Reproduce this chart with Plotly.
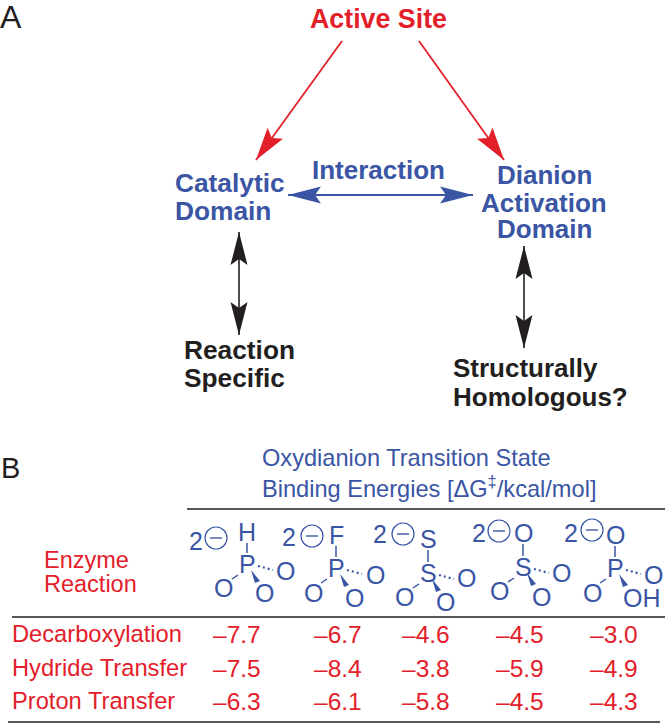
import plotly.graph_objects as go

# ---- content ----
reactions = ["Decarboxylation", "Hydride Transfer", "Proton Transfer"]
energies = [
    ["–7.7", "–6.7", "–4.6", "–4.5", "–3.0"],
    ["–7.5", "–8.4", "–3.8", "–5.9", "–4.9"],
    ["–6.3", "–6.1", "–5.8", "–4.5", "–4.3"],
]
top_atoms = ["H", "F", "S", "O", "O"]
center_atoms = ["P", "P", "S", "S", "P"]
bottom_atoms = ["O", "O", "O", "O", "OH"]

# ---- palette / layout constants ----
RED = "#e3202a"
BLUE = "#3a55a4"
BLACK = "#231f20"
FONT = "Liberation Sans"
W, H = 665, 723

col_x = [237, 338, 426, 520, 614]
row_y = [634, 668, 701]
center_xy = [(247, 564), (336, 568), (428, 573), (523, 567), (615, 568)]
top_y = [532, 535, 539, 533, 535]
left_xy = [(223, 588), (313, 593), (404, 597), (499, 591), (592, 593)]
right_xy = [(285, 571), (375, 575), (466, 578), (561, 573), (653, 575)]
bottom_xy = [(264, 593), (354, 598), (445, 602), (541, 597), (642, 598)]
two_xy = [(196, 541), (289, 537), (380, 534), (479, 533), (571, 533)]
circle_xy = [(216, 538), (312, 536), (403, 534), (499, 531), (592, 530)]

annotations = []
shapes = []


def text(x, y, s, color, size, bold=False, anchor="left"):
    annotations.append(dict(
        x=x, y=y, xref="x", yref="y", text=f"<b>{s}</b>" if bold else s,
        showarrow=False, xanchor=anchor, yanchor="middle", align=anchor,
        borderpad=0, borderwidth=0,
        font=dict(family=FONT, size=size, color=color),
    ))


def line(x0, y0, x1, y1, color, width=1.6, dash="solid"):
    shapes.append(dict(type="line", xref="x", yref="y", x0=x0, y0=y0, x1=x1, y1=y1,
                       line=dict(color=color, width=width, dash=dash)))


def poly(points, color):
    path = "M " + " L ".join(f"{a:.1f},{b:.1f}" for a, b in points) + " Z"
    shapes.append(dict(type="path", xref="x", yref="y", path=path,
                       fillcolor=color, line=dict(width=0)))


def head(tx, ty, fx, fy, length, half, notch, color):
    d = ((tx - fx) ** 2 + (ty - fy) ** 2) ** 0.5
    ux, uy = (tx - fx) / d, (ty - fy) / d
    px, py = -uy, ux
    bx, by = tx - ux * length, ty - uy * length
    nx, ny = tx - ux * notch, ty - uy * notch
    poly([(tx, ty), (bx + px * half, by + py * half), (nx, ny),
          (bx - px * half, by - py * half)], color)


def arrow(x0, y0, x1, y1, color, length, half, notch, width, both=False):
    line(x0, y0, x1, y1, color, width)
    head(x1, y1, x0, y0, length, half, notch, color)
    if both:
        head(x0, y0, x1, y1, length, half, notch, color)


# ---- panel A ----
text(0, 17, "A", BLACK, 32)
text(378, 19, "Active Site", RED, 26.8, True, "center")
arrow(342, 41, 256, 160, RED, 33, 9.5, 27, 1.8)
arrow(419, 41, 504, 160, RED, 33, 9.5, 27, 1.8)
text(175, 183, "Catalytic", BLUE, 26.3, True)
text(175, 211, "Domain", BLUE, 26.3, True)
text(378, 170, "Interaction", BLUE, 26, True, "center")
for y, s in zip([175, 203, 229], ["Dianion", "Activation", "Domain"]):
    text(544, y, s, BLUE, 26, True, "center")
arrow(288, 195, 473, 195, BLUE, 33, 8.5, 27, 1.8, both=True)
arrow(239, 232, 239, 335, BLACK, 33, 8.5, 27, 1.6, both=True)
arrow(524, 246, 524, 348, BLACK, 33, 8.5, 27, 1.6, both=True)
text(184, 350, "Reaction", BLACK, 26.3, True)
text(184, 378, "Specific", BLACK, 26.3, True)
text(453, 368, "Structurally", BLACK, 26, True)
text(453, 397, "Homologous?", BLACK, 26, True)

# ---- panel B ----
text(1, 468, "B", BLACK, 29)
text(262, 458, "Oxydianion Transition State", BLUE, 23.6)
text(262, 487, "Binding Energies [ΔG<sup>‡</sup>/kcal/mol]", BLUE, 23.6)
line(187, 509, 665, 509, BLACK, 1.6)
line(12, 617, 665, 617, BLACK, 1.6)
line(8, 722, 660, 722, BLACK, 1.6)
text(44, 560, "Enzyme", RED, 23.5)
text(44, 584, "Reaction", RED, 23.5)

for i, (cx, cy) in enumerate(center_xy):
    text(cx, top_y[i], top_atoms[i], BLUE, 25, anchor="center")
    text(cx, cy, center_atoms[i], BLUE, 25, anchor="center")
    text(*left_xy[i], "O", BLUE, 25, anchor="center")
    text(*right_xy[i], "O", BLUE, 25, anchor="center")
    text(*bottom_xy[i], bottom_atoms[i], BLUE, 25, anchor="center")
    text(*two_xy[i], "2", BLUE, 25, anchor="center")
    ox, oy = circle_xy[i]
    shapes.append(dict(type="circle", xref="x", yref="y", x0=ox - 11, x1=ox + 11,
                       y0=oy - 11, y1=oy + 11, line=dict(color=BLUE, width=1.2)))
    line(ox - 6, oy, ox + 6, oy, BLUE, 1.4)
    line(cx, top_y[i] + 11, cx, cy - 11, BLUE, 1.5)
    line(cx - 9, cy + 11, cx - 15, cy + 15, BLUE, 1.5)
    line(cx + 11, cy + 2, cx + 26, cy + 6, BLUE, 2.2, "2px,3px")
    poly([(cx + 4, cy + 6), (cx + 8, cy + 19), (cx + 13, cy + 17)], BLUE)

for y, name, row in zip(row_y, reactions, energies):
    text(12, y, name, RED, 23.7)
    for x, v in zip(col_x, row):
        text(x, y, v, RED, 24.5, anchor="center")

fig = go.Figure()
fig.update_layout(
    width=W, height=H, autosize=False,
    margin=dict(l=0, r=0, t=0, b=0, pad=0),
    paper_bgcolor="white", plot_bgcolor="white",
    xaxis=dict(range=[0, W], visible=False, fixedrange=True),
    yaxis=dict(range=[H, 0], visible=False, fixedrange=True),
    annotations=annotations, shapes=shapes, showlegend=False,
)
fig.write_html("out.html", config=dict(displayModeBar=False),
               post_script="document.body.style.margin='0';document.body.style.overflow='hidden';")
